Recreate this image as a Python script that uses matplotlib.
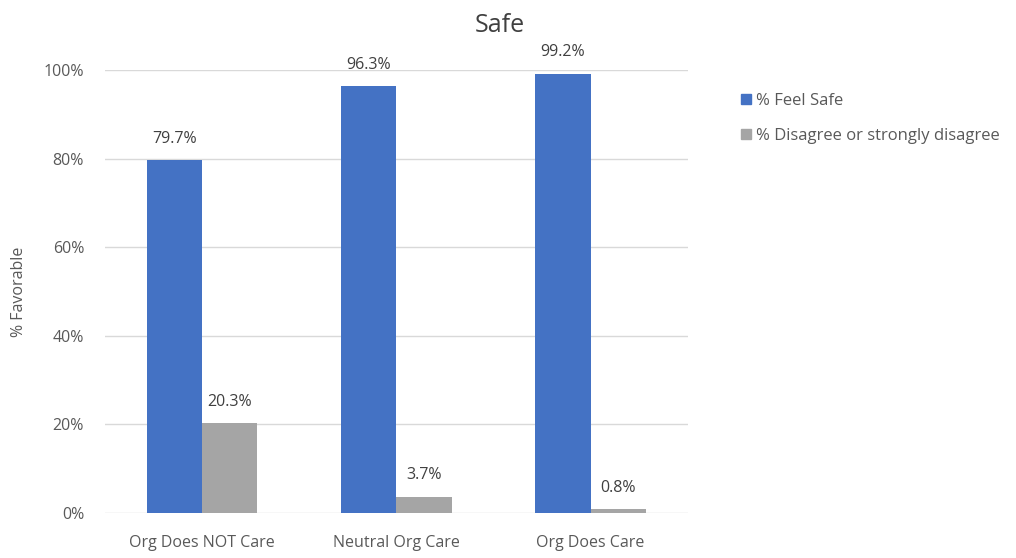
import numpy as np
import matplotlib
matplotlib.use("Agg")
import matplotlib.pyplot as plt
from matplotlib.patches import Patch
from matplotlib.ticker import PercentFormatter

categories = ["Org Does NOT Care", "Neutral Org Care", "Org Does Care"]
feel_safe = [79.7, 96.3, 99.2]
disagree = [20.3, 3.7, 0.8]
series_names = ["% Feel Safe", "% Disagree or strongly disagree"]

BLUE = "#4472C4"
GRAY = "#A5A5A5"
TXT = "#595959"

plt.rcParams["font.family"] = ["Open Sans", "DejaVu Sans"]

fig = plt.figure(figsize=(10.16, 5.58), dpi=100)
ax = fig.add_axes([0.1033, 0.0806, 0.5737, 0.794])

x = np.arange(len(categories))
w = 0.285
b1 = ax.bar(x - w / 2, feel_safe, w, color=BLUE)
b2 = ax.bar(x + w / 2, disagree, w, color=GRAY)
for bars, vals in ((b1, feel_safe), (b2, disagree)):
    for r, v in zip(bars, vals):
        ax.text(r.get_x() + r.get_width() / 2, v + 3, f"{v:.1f}%",
                ha="center", va="bottom", fontsize=11.5, color="#404040")

ax.set_xlim(-0.5, 2.5)
ax.set_ylim(0, 100)
ax.set_yticks(np.arange(0, 101, 20))
ax.yaxis.set_major_formatter(PercentFormatter(decimals=0))
ax.set_xticks(x)
ax.set_xticklabels(categories)
ax.tick_params(axis="both", length=0, labelsize=11.5, labelcolor=TXT)
ax.tick_params(axis="x", pad=16)
ax.tick_params(axis="y", pad=15)
ax.grid(axis="y", color="#D9D9D9", lw=1)
ax.set_axisbelow(True)
for s in ax.spines.values():
    s.set_visible(False)
ax.set_ylabel("% Favorable", fontsize=11.5, color=TXT, labelpad=12)

fig.text(0.492, 0.955, "Safe", ha="center", va="center", fontsize=18, color="#404040")

handles = [Patch(color=BLUE), Patch(color=GRAY)]
fig.legend(handles, series_names, loc="upper left", bbox_to_anchor=(0.715, 0.86),
           frameon=False, fontsize=12, handlelength=0.55, handleheight=0.55,
           handletextpad=0.3, labelspacing=1.15, labelcolor=TXT)

fig.savefig("out.png", dpi=100)
